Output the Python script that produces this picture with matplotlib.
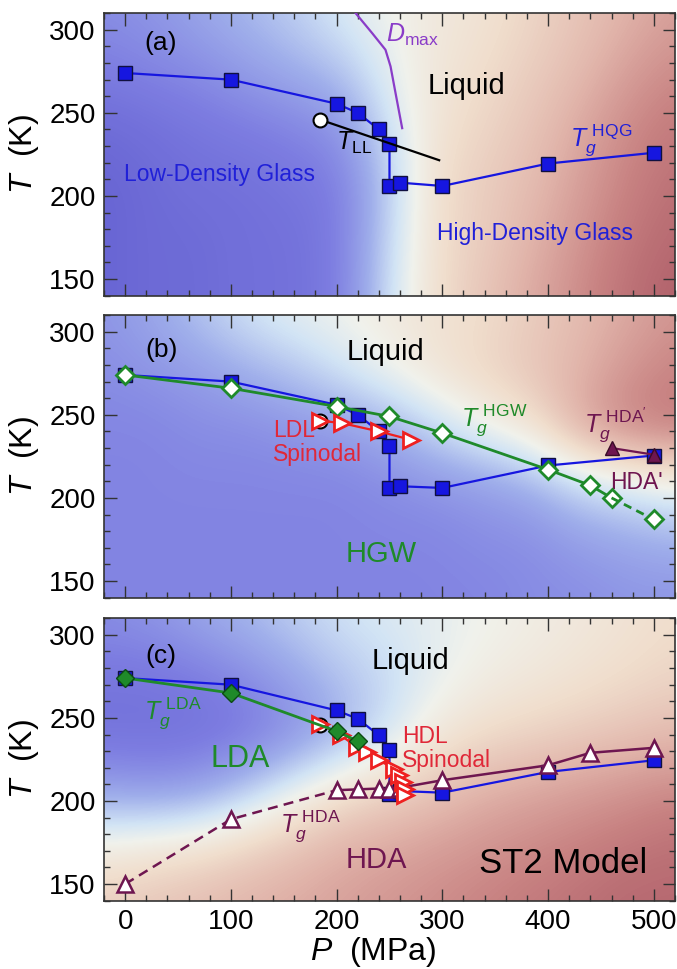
import numpy as np
import matplotlib
matplotlib.use("Agg")
import matplotlib.pyplot as plt
from matplotlib.colors import LinearSegmentedColormap
from matplotlib.ticker import MultipleLocator

plt.rcParams["font.family"] = "Liberation Sans"
plt.rcParams["mathtext.fontset"] = "custom"
plt.rcParams["mathtext.rm"] = "Liberation Sans"
plt.rcParams["mathtext.it"] = "Liberation Sans:italic"
plt.rcParams["mathtext.bf"] = "Liberation Sans:bold"

BLUE, GREEN, RED, MAROON, VIOLET = "#1616e0", "#1f8a2a", "#ee2020", "#6e1650", "#8a3cc8"

# --- glass transition / spinodal data (P in MPa, T in K) ---
P_SQ = [0, 100, 200, 220, 240, 250, 250, 260, 300, 400, 500]
T_SQ_A = [274, 270, 255.5, 250, 240, 231, 206, 208, 206, 219.5, 226]
T_SQ_B = [274, 270, 256, 250, 240, 231, 206, 207, 206, 219.5, 225.5]
T_SQ_C = [274, 270, 254.5, 249.5, 239.5, 230.5, 204, 206, 205, 217.5, 224.5]

P_HGW = [0, 100, 200, 250, 300, 400, 440, 460, 500]
T_HGW = [274, 266, 255, 249, 239, 217, 207.5, 200, 187]

P_LDA = [0, 100, 200, 220]
T_LDA = [274, 265, 242, 236]

P_LDL_SP = [184, 205, 240, 270]
T_LDL_SP = [246.5, 245, 240, 235]

P_HDL_SP = [184, 204, 219, 229, 240, 254, 259, 263, 265, 265]
T_HDL_SP = [246.5, 239.5, 232.5, 229.5, 224.5, 219.5, 215.5, 211.5, 207.5, 203.5]

P_HDAP = [460, 500]
T_HDAP = [230, 226]

P_HDA = [0, 100, 200, 220, 240, 250, 260, 300, 400, 440, 500]
T_HDA = [150, 189, 206.5, 207, 207.5, 207, 208, 212.5, 221.5, 229, 232]
N_HDA_DASHED = 3  # first three points joined by a dashed line

P_C, T_C = 184, 246  # critical point
P_TLL = [184, 297]
T_TLL = [246, 221.5]
P_DMAX = [218, 233.6, 246.2, 251, 255.7, 262]
T_DMAX = [310, 298, 288, 278, 262, 240.8]

# --- background density maps (-1 = low density, +1 = high density) ---
P_GRID = [-20, 25, 70, 115, 160, 205, 250, 295, 340, 385, 430, 475, 520]
T_GRID = [310, 276, 242, 208, 174, 140]
BG_A = [
    [-0.6, -0.55, -0.45, -0.35, -0.25, -0.1, 0.0, 0.1, 0.15, 0.25, 0.35, 0.45, 0.55],
    [-0.7, -0.65, -0.6, -0.5, -0.4, -0.3, -0.05, 0.12, 0.2, 0.3, 0.4, 0.55, 0.65],
    [-0.85, -0.8, -0.75, -0.7, -0.65, -0.55, -0.15, 0.15, 0.25, 0.35, 0.5, 0.65, 0.75],
    [-0.9, -0.85, -0.8, -0.8, -0.75, -0.7, -0.25, 0.2, 0.3, 0.4, 0.55, 0.7, 0.8],
    [-0.9, -0.85, -0.85, -0.8, -0.8, -0.7, -0.2, 0.2, 0.3, 0.45, 0.6, 0.75, 0.85],
    [-0.9, -0.85, -0.85, -0.8, -0.8, -0.7, -0.15, 0.2, 0.35, 0.5, 0.65, 0.8, 0.9],
]
BG_B = [
    [-0.55, -0.45, -0.3, -0.15, -0.05, 0.0, 0.08, 0.15, 0.2, 0.3, 0.4, 0.5, 0.6],
    [-0.6, -0.55, -0.5, -0.4, -0.3, -0.15, 0.0, 0.15, 0.25, 0.35, 0.45, 0.6, 0.7],
    [-0.65, -0.65, -0.6, -0.6, -0.55, -0.5, -0.4, -0.2, 0.0, 0.15, 0.5, 0.7, 0.75],
    [-0.65, -0.65, -0.65, -0.65, -0.65, -0.65, -0.6, -0.55, -0.5, -0.4, -0.2, -0.1, 0.0],
    [-0.65, -0.65, -0.65, -0.65, -0.65, -0.65, -0.65, -0.65, -0.6, -0.6, -0.5, -0.45, -0.4],
    [-0.65, -0.65, -0.65, -0.65, -0.65, -0.65, -0.65, -0.65, -0.65, -0.6, -0.6, -0.55, -0.55],
]
BG_C = [
    [-0.6, -0.55, -0.45, -0.35, -0.25, -0.15, -0.1, -0.05, 0.0, 0.05, 0.1, 0.15, 0.2],
    [-0.75, -0.75, -0.7, -0.6, -0.45, -0.3, -0.2, -0.05, 0.05, 0.1, 0.15, 0.2, 0.25],
    [-0.8, -0.8, -0.8, -0.75, -0.6, -0.4, -0.15, 0.1, 0.2, 0.25, 0.3, 0.35, 0.4],
    [-0.5, -0.55, -0.5, -0.3, -0.05, 0.15, 0.25, 0.35, 0.45, 0.5, 0.55, 0.6, 0.65],
    [0.05, 0.1, 0.15, 0.25, 0.35, 0.45, 0.5, 0.55, 0.6, 0.65, 0.7, 0.75, 0.8],
    [0.3, 0.35, 0.4, 0.45, 0.5, 0.55, 0.6, 0.65, 0.7, 0.75, 0.8, 0.85, 0.85],
]

cmap = LinearSegmentedColormap.from_list("dens", [
    (0.0, (95/255, 90/255, 205/255)),
    (0.15, (125/255, 125/255, 225/255)),
    (0.3, (160/255, 175/255, 235/255)),
    (0.425, (210/255, 228/255, 245/255)),
    (0.5, (240/255, 242/255, 236/255)),
    (0.6, (240/255, 222/255, 205/255)),
    (0.725, (225/255, 180/255, 170/255)),
    (0.85, (200/255, 130/255, 130/255)),
    (1.0, (165/255, 80/255, 95/255)),
])

fig = plt.figure(figsize=(6.77, 9.69), dpi=100)
LEFT, WIDTH, HEIGHT = 0.1536, 0.8434, 0.2915
axes = [fig.add_axes([LEFT, y0, WIDTH, HEIGHT]) for y0 in (0.6949, 0.3833, 0.0705)]

dp = (P_GRID[1] - P_GRID[0]) / 2
dt = (T_GRID[0] - T_GRID[1]) / 2
for ax, bg in zip(axes, [BG_A, BG_B, BG_C]):
    ax.imshow(np.array(bg), cmap=cmap, vmin=-1, vmax=1, origin="upper", aspect="auto",
              interpolation="bicubic",
              extent=[P_GRID[0] - dp, P_GRID[-1] + dp, T_GRID[-1] - dt, T_GRID[0] + dt])
    ax.set_xlim(-20, 520)
    ax.set_ylim(140, 310)
    ax.xaxis.set_major_locator(MultipleLocator(100))
    ax.xaxis.set_minor_locator(MultipleLocator(20))
    ax.yaxis.set_major_locator(MultipleLocator(50))
    ax.yaxis.set_minor_locator(MultipleLocator(10))
    ax.tick_params(which="both", direction="in", top=True, right=True, width=1, color="#333333")
    ax.tick_params(which="major", length=9, labelsize=20, pad=6)
    ax.tick_params(which="minor", length=4.5)
    for s in ax.spines.values():
        s.set_color("#333333")
        s.set_linewidth(1.2)
    ax.set_ylabel("$T$  (K)", fontsize=23)
    ax.yaxis.set_label_coords(-0.11, 0.5)

sq = dict(marker="s", ms=10, mfc=BLUE, mec="#101040", mew=1, color=BLUE, lw=1.6)
circ = dict(marker="o", ms=10, mfc="white", mec="black", mew=1.5, ls="none")

# (a)
ax = axes[0]
ax.plot(P_SQ, T_SQ_A, **sq, zorder=3)
ax.plot(P_TLL, T_TLL, color="black", lw=1.6, zorder=3)
ax.plot([P_C], [T_C], **circ, zorder=4)
ax.plot(P_DMAX, T_DMAX, color=VIOLET, lw=1.6, zorder=3)
ax.set_xticklabels([])
ax.text(34, 292, "(a)", fontsize=19, ha="center", va="center")
ax.text(323, 266, "Liquid", fontsize=21, ha="center", va="center")
ax.text(89, 213, "Low-Density Glass", fontsize=16.5, color="#2020d8", ha="center", va="center")
ax.text(388, 177.5, "High-Density Glass", fontsize=16.5, color="#2020d8", ha="center", va="center")
ax.text(199, 228, r"$T_{\mathrm{LL}}$", fontsize=18, ha="left", va="baseline")
ax.text(247, 293, r"$D_{\mathrm{max}}$", fontsize=18, color=VIOLET, ha="left", va="baseline")
ax.text(421, 230, r"$T_g^{\ \mathrm{HQG}}$", fontsize=18, color="#2020d8", ha="left", va="baseline")

# (b)
ax = axes[1]
ax.plot(P_SQ, T_SQ_B, **sq, zorder=3)
ax.plot(P_HGW[:-1], T_HGW[:-1], color=GREEN, lw=2, marker="D", ms=9, mfc="white",
        mec=GREEN, mew=2, zorder=4)
ax.plot(P_HGW[-2:], T_HGW[-2:], color=GREEN, lw=2, ls=(0, (3, 2)), zorder=4)
ax.plot(P_HGW[-1:], T_HGW[-1:], marker="D", ms=9, mfc="white", mec=GREEN, mew=2, ls="none", zorder=5)
ax.plot([P_C], [T_C], **circ, zorder=4)
ax.plot(P_LDL_SP, T_LDL_SP, color=RED, lw=1.6, marker=">", ms=11, mfc="white", mec=RED,
        mew=2, zorder=5)
ax.plot(P_HDAP, T_HDAP, color=MAROON, lw=1.6, marker="^", ms=10, mfc=MAROON, mec="#3a0a28",
        mew=1, zorder=5)
ax.set_xticklabels([])
ax.text(34, 289, "(b)", fontsize=19, ha="center", va="center")
ax.text(246, 288, "Liquid", fontsize=21, ha="center", va="center")
ax.text(242, 166.5, "HGW", fontsize=21, color=GREEN, ha="center", va="center")
ax.text(140, 233.5, "LDL\nSpinodal", fontsize=16.5, color="#e02838", ha="left", va="center",
        linespacing=1.05)
ax.text(318, 243, r"$T_g^{\ \mathrm{HGW}}$", fontsize=18, color=GREEN, ha="left", va="baseline")
ax.text(434, 239, r"$T_g^{\ \mathrm{HDA'}}$", fontsize=18, color=MAROON, ha="left", va="baseline")
ax.text(459, 209, "HDA'", fontsize=16.5, color=MAROON, ha="left", va="center")

# (c)
ax = axes[2]
ax.plot(P_SQ, T_SQ_C, **sq, zorder=3)
ax.plot(P_HDA[:N_HDA_DASHED], T_HDA[:N_HDA_DASHED], color=MAROON, lw=1.8, ls=(0, (4, 2.5)), zorder=3)
ax.plot(P_HDA[N_HDA_DASHED - 1:], T_HDA[N_HDA_DASHED - 1:], color=MAROON, lw=1.8, zorder=3)
ax.plot(P_HDA, T_HDA, marker="^", ms=11, mfc="white", mec=MAROON, mew=1.8, ls="none", zorder=4)
ax.plot([P_C], [T_C], **circ, zorder=4)
ax.plot(P_HDL_SP, T_HDL_SP, color=RED, lw=1.6, marker=">", ms=11, mfc="white", mec=RED,
        mew=2, zorder=5)
ax.plot(P_LDA, T_LDA, color=GREEN, lw=2, marker="D", ms=9, mfc=GREEN, mec="#0c4a14",
        mew=1, zorder=6)
ax.set_xlabel("$P$  (MPa)", fontsize=23)
ax.xaxis.set_label_coords(0.471, -0.12)
ax.text(34, 287, "(c)", fontsize=19, ha="center", va="center")
ax.text(270, 284, "Liquid", fontsize=21, ha="center", va="center")
ax.text(108.5, 225.5, "LDA", fontsize=22, color=GREEN, ha="center", va="center")
ax.text(238, 164.5, "HDA", fontsize=21, color=MAROON, ha="center", va="center")
ax.text(414, 162.5, "ST2 Model", fontsize=25, ha="center", va="center")
ax.text(262, 231.5, "HDL\nSpinodal", fontsize=16.5, color="#e02838", ha="left", va="center",
        linespacing=1.05)
ax.text(18, 249.5, r"$T_g^{\ \mathrm{LDA}}$", fontsize=18, color=GREEN, ha="left", va="baseline")
ax.text(146, 181.5, r"$T_g^{\ \mathrm{HDA}}$", fontsize=18, color=MAROON, ha="left", va="baseline")

fig.savefig("out.png", dpi=100, facecolor="white")
plt.close(fig)
